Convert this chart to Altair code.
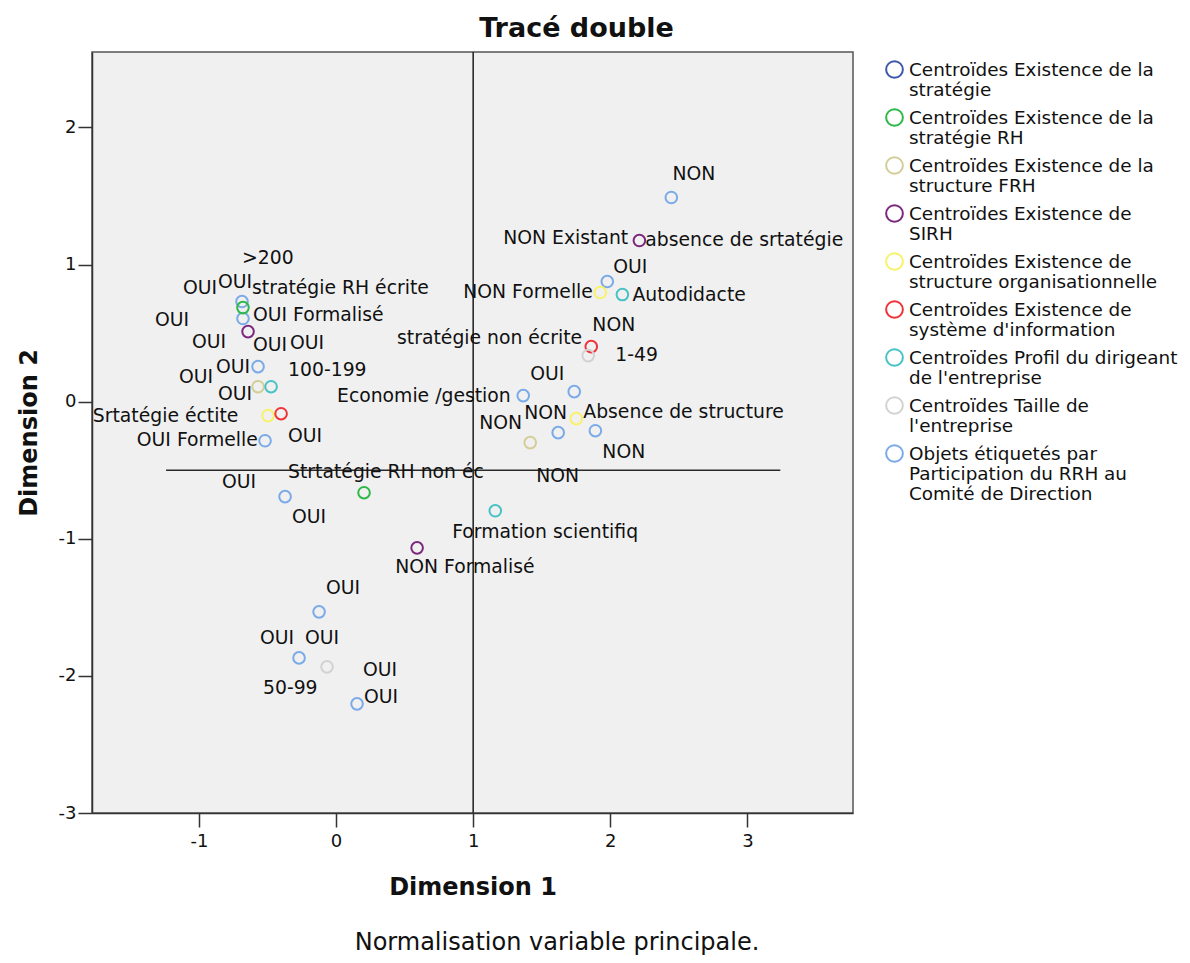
import altair as alt
import pandas as pd

# Legend groups (| marks a line break) and their colours
groups = [
    "Centroïdes Existence de la|stratégie",
    "Centroïdes Existence de la|stratégie RH",
    "Centroïdes Existence de la|structure FRH",
    "Centroïdes Existence de|SIRH",
    "Centroïdes Existence de|structure organisationnelle",
    "Centroïdes Existence de|système d'information",
    "Centroïdes Profil du dirigeant|de l'entreprise",
    "Centroïdes Taille de|l'entreprise",
    "Objets étiquetés par|Participation du RRH au|Comité de Direction",
]
colors = ["#3E58AC", "#2EB848", "#D3CE97", "#7C287D", "#F7F26A",
          "#EF3338", "#48C2C5", "#D2D2D2", "#7BAAE8"]

# Points (Dimension 1, Dimension 2, group index)
pt_x = [2.445, 1.978, 1.365, 1.737, 1.620, 1.891, -0.372, -0.124, -0.270, 0.153,
        -0.686, -0.679, -0.569, -0.518,
        -0.679, 0.204,
        -0.569, 1.416,
        -0.642, 2.212, 0.591,
        -0.496, 1.927, 1.752,
        -0.401, 1.861,
        -0.474, 2.088, 1.161,
        1.839, -0.066]
pt_y = [1.489, 0.876, 0.044, 0.073, -0.226, -0.212, -0.693, -1.533, -1.869, -2.204,
        0.730, 0.606, 0.255, -0.285,
        0.686, -0.664,
        0.109, -0.299,
        0.511, 1.175, -1.066,
        -0.102, 0.796, -0.124,
        -0.088, 0.401,
        0.109, 0.781, -0.796,
        0.336, -1.934]
pt_group = [8, 8, 8, 8, 8, 8, 8, 8, 8, 8,
            8, 8, 8, 8,
            1, 1,
            2, 2,
            3, 3, 3,
            4, 4, 4,
            5, 5,
            6, 6, 6,
            7, 7]

# Point labels (text, left edge on Dimension 1, centre on Dimension 2)
lab_text = [">200", "OUI", "OUI", "stratégie RH écrite", "OUI Formalisé", "OUI", "OUI",
            "OUI", "OUI", "OUI", "100-199", "OUI", "OUI", "Srtatégie éctite",
            "OUI Formelle", "OUI", "Economie /gestion", "OUI", "NON", "NON",
            "Absence de structure", "NON", "NON", "Strtatégie RH non éc", "OUI", "OUI",
            "Formation scientifiq", "NON Formalisé", "OUI", "OUI", "OUI", "OUI", "50-99",
            "OUI", "NON", "NON Existant", "absence de srtatégie", "OUI", "NON Formelle",
            "Autodidacte", "stratégie non écrite", "NON", "1-49"]
lab_x = [-0.686, -1.117, -0.861, -0.613, -0.606, -1.321, -1.051,
         -0.606, -0.336, -0.876, -0.350, -1.146, -0.861, -1.774,
         -1.453, -0.350, 0.007, 1.416, 1.044, 1.372,
         1.803, 1.942, 1.460, -0.350, -0.832, -0.321,
         0.847, 0.431, -0.073, -0.555, -0.226, 0.197, -0.533,
         0.204, 2.453, 1.219, 2.255, 2.022, 0.927,
         2.161, 0.445, 1.869, 2.036]
lab_y = [1.051, 0.832, 0.869, 0.832, 0.635, 0.599, 0.438,
         0.416, 0.431, 0.255, 0.234, 0.182, 0.058, -0.102,
         -0.277, -0.248, 0.044, 0.204, -0.153, -0.080,
         -0.073, -0.365, -0.540, -0.511, -0.584, -0.839,
         -0.949, -1.204, -1.358, -1.723, -1.723, -1.956, -2.088,
         -2.153, 1.657, 1.197, 1.182, 0.985, 0.803,
         0.781, 0.467, 0.562, 0.343]

# Reference lines
vline_x = [1.0]
hline_y = [-0.5]
hline_x_from = [-1.24]
hline_x_to = [3.24]

note = "Normalisation variable principale."

FONT = "DejaVu Sans"
W, H = 761, 761

pts = pd.DataFrame({"x": pt_x, "y": pt_y,
                    "g": [groups[i] for i in pt_group]})
labs = pd.DataFrame({"t": lab_text, "x": lab_x, "y": lab_y})
vdf = pd.DataFrame({"x": vline_x})
hdf = pd.DataFrame({"y": hline_y, "x": hline_x_from, "x2": hline_x_to})
ndf = pd.DataFrame({"t": [note]})

xscale = alt.Scale(domain=[-1.78, 3.77], nice=False, zero=False)
yscale = alt.Scale(domain=[-3, 2.55], nice=False, zero=False)

xaxis = alt.Axis(title="Dimension 1", values=[-1, 0, 1, 2, 3], grid=False,
                 labelExpr="toString(datum.value)",
                 tickSize=14, labelPadding=5, titlePadding=25)
yaxis = alt.Axis(title="Dimension 2", values=[-3, -2, -1, 0, 1, 2], grid=False,
                 labelExpr="toString(datum.value)",
                 tickSize=14, labelPadding=2, titlePadding=17)

vline = alt.Chart(vdf).mark_rule(color="#2a2a2a", strokeWidth=1.6).encode(
    x=alt.X("x:Q", scale=xscale, axis=xaxis))
hline = alt.Chart(hdf).mark_rule(color="#2a2a2a", strokeWidth=1.6).encode(
    y=alt.Y("y:Q", scale=yscale, axis=yaxis), x="x:Q", x2="x2:Q")

points = alt.Chart(pts).mark_point(filled=False, size=135, strokeWidth=2,
                                   opacity=1).encode(
    x=alt.X("x:Q", scale=xscale, axis=xaxis),
    y=alt.Y("y:Q", scale=yscale, axis=yaxis),
    color=alt.Color("g:N", scale=alt.Scale(domain=groups, range=colors),
                    legend=alt.Legend(title=None, orient="none", legendX=793, legendY=8,
                                      labelExpr="split(datum.label, '|')",
                                      labelFont=FONT, labelFontSize=18.4,
                                      labelLimit=500,
                                      labelOffset=5, rowPadding=5, padding=0,
                                      symbolType="circle", symbolSize=280,
                                      symbolStrokeWidth=2, labelColor="#111111")),
)

labels = alt.Chart(labs).mark_text(align="left", baseline="middle", font=FONT,
                                   fontSize=18.8, color="#111111").encode(
    x="x:Q", y="y:Q", text="t:N")

footnote = alt.Chart(ndf).mark_text(align="center", baseline="middle", font=FONT,
                                    fontSize=24, color="#111111").encode(
    x=alt.value(465), y=alt.value(891), text="t:N")

chart = alt.layer(vline, hline, points, labels, footnote).properties(
    width=W, height=H,
    title=alt.TitleParams("Tracé double", font=FONT, fontSize=27, fontWeight="bold",
                          anchor="middle", dx=104, offset=8, color="#111111"),
    autosize=alt.AutoSizeParams(type="none"),
    padding={"left": 84, "top": 44, "right": 329, "bottom": 142},
).configure_view(
    fill="#F0F0F0", stroke="#555555", strokeWidth=1.5
).configure_axis(
    labelFont=FONT, labelFontSize=18, labelColor="#111111",
    titleFont=FONT, titleFontSize=24, titleFontWeight="bold", titleColor="#111111",
    domainColor="#333333", domainWidth=1.5, tickColor="#333333", tickWidth=1.5
)

chart.save("out.html", embed_options={"renderer": "svg", "actions": False})
